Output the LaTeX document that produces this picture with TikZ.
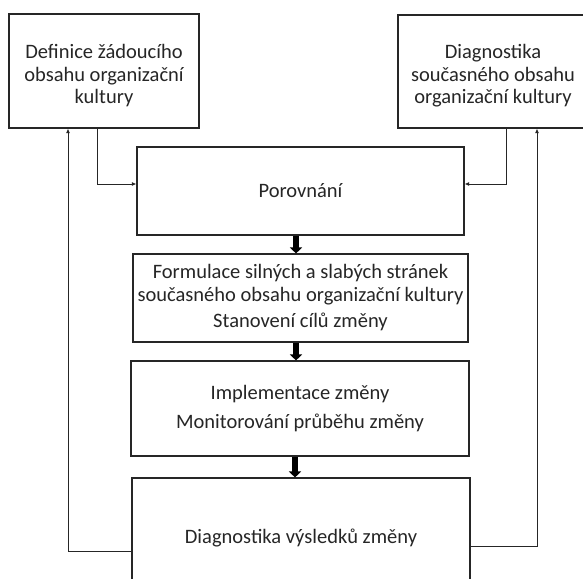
\documentclass[tikz,border=0pt]{standalone}
\usepackage{fontspec}
\setmainfont{Carlito}
\usetikzlibrary{arrows.meta,calc}
\definecolor{ink}{HTML}{262626}
\tikzset{
  box/.style={draw=ink, line width=1.1pt, fill=white, align=center, inner sep=0pt,
              font=\fontsize{20.5pt}{22.5pt}\selectfont, text=ink},
  conn/.style={draw=ink, line width=1pt, -{Latex[length=4.5pt,width=4pt]}},
  fat/.style={draw=black, line width=6pt, -{Triangle[length=6pt,width=12pt]}, shorten >=0pt},
}
\begin{document}
\begin{tikzpicture}[x=1pt,y=-1pt]
\useasboundingbox (0,0) rectangle (583,578);
\clip (0,0) rectangle (583,578);
\fill[white] (0,0) rectangle (583,578);

\node[box, minimum width=190pt, minimum height=114pt] (b1) at (104,71)
  {\rule{0pt}{24pt}Definice žádoucího\\obsahu organizační\\kultury};
\node[box, minimum width=190pt, minimum height=113pt] (b2) at (493,71.5)
  {\rule{0pt}{23pt}Diagnostika\\současného obsahu\\organizační kultury};
\node[box, minimum width=327pt, minimum height=88pt] (por) at (300.5,191)
  {Porovnání};
\node[box, minimum width=335pt, minimum height=88pt] (b3) at (300.5,298)
  {Formulace silných a slabých stránek\\současného obsahu organizační kultury\\[4pt]Stanovení cílů změny};
\node[box, minimum width=338pt, minimum height=95pt] (b4) at (300,408.5)
  {Implementace změny\\[7pt]Monitorování průběhu změny};
\node[box, minimum width=338pt, minimum height=114pt] (b5) at (301,535)
  {\rule{0pt}{20pt}Diagnostika výsledků změny};

% inputs to comparison
\draw[conn] ([xshift=-7pt]b1.south) |- ([yshift=7pt]por.west);
\draw[conn] ([xshift=13pt]b2.south) |- ([yshift=7pt]por.east);

% feedback loops
\draw[conn] ([yshift=-16pt]b5.west) -| ([xshift=-36pt]b1.south);
\draw[conn] ([yshift=-11pt]b5.east) -| ([xshift=44pt]b2.south);

% main flow
\draw[fat] ([xshift=-4.5pt]por.south) -- ([xshift=-4.5pt]por.south |- b3.north);
\draw[fat] ([xshift=-4.5pt]b3.south) -- ([xshift=-4.5pt]b3.south |- b4.north);
\draw[fat] ([xshift=-5pt]b4.south) -- ([xshift=-5pt]b4.south |- b5.north);
\end{tikzpicture}
\end{document}
